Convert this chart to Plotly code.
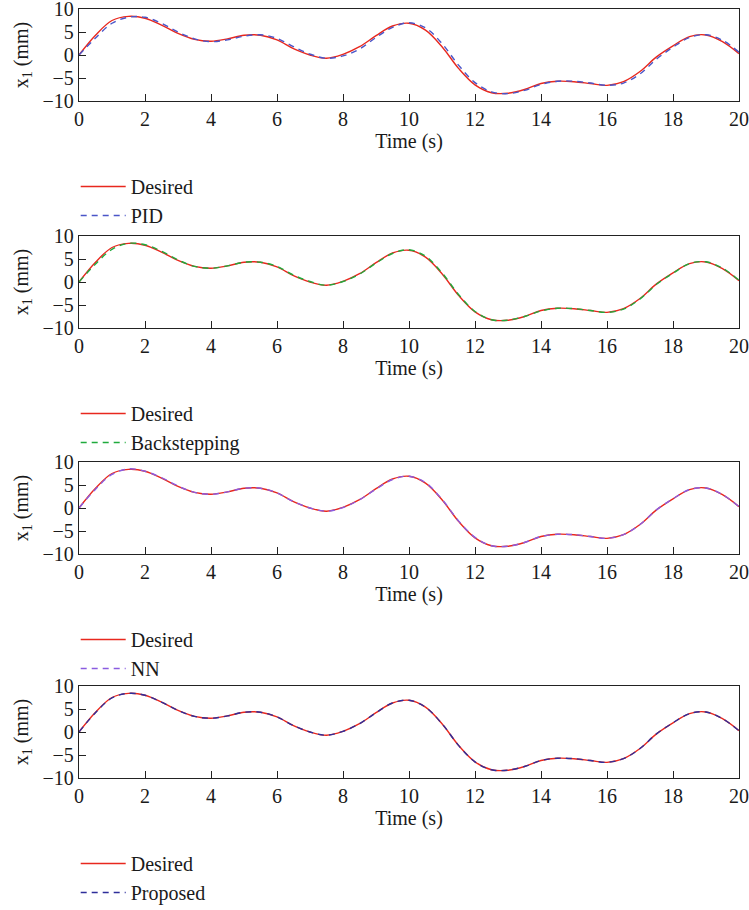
import plotly.graph_objects as go

# ---- data ----
time_s = [0, 0.5, 1, 1.5, 2, 2.5, 3, 3.5, 4, 4.5, 5, 5.5, 6, 6.5, 7, 7.5, 8, 8.5, 9, 9.5,
          10, 10.5, 11, 11.5, 12, 12.5, 13, 13.5, 14, 14.5, 15, 15.5, 16, 16.5, 17, 17.5,
          18, 18.5, 19, 19.5, 20]

desired = [0, 4.3, 7.5, 8.4, 8.0, 6.5, 4.7, 3.4, 3.0, 3.5, 4.3, 4.3, 3.3, 1.4, 0.0, -0.7,
           0.15, 1.8, 4.2, 6.3, 6.9, 5.4, 1.8, -2.9, -6.5, -8.2, -8.3, -7.5, -6.2, -5.7,
           -5.8, -6.2, -6.6, -5.8, -3.6, -0.4, 2.0, 4.0, 4.35, 2.9, 0.3]

pid = [0, 3.7, 6.9, 8.2, 8.2, 6.9, 5.0, 3.5, 2.9, 3.3, 4.1, 4.4, 3.6, 1.8, 0.2, -0.7,
       -0.2, 1.3, 3.8, 6.0, 7.0, 5.9, 2.5, -2.2, -6.0, -8.0, -8.4, -7.7, -6.4, -5.7,
       -5.7, -6.1, -6.6, -6.1, -4.1, -0.9, 1.7, 3.8, 4.4, 3.2, 0.6]

backstepping = [0, 3.9, 7.1, 8.4, 8.1, 6.7, 4.8, 3.4, 3.0, 3.5, 4.3, 4.3, 3.4, 1.5, 0.1, -0.7,
                0.1, 1.7, 4.1, 6.2, 7.0, 5.6, 2.0, -2.7, -6.4, -8.2, -8.3, -7.5, -6.3, -5.7,
                -5.8, -6.2, -6.6, -5.9, -3.7, -0.5, 1.9, 4.0, 4.4, 3.0, 0.4]

nn = [0, 4.1, 7.3, 8.5, 8.0, 6.6, 4.8, 3.4, 3.0, 3.5, 4.3, 4.3, 3.3, 1.4, 0.0, -0.7,
      0.1, 1.8, 4.1, 6.2, 6.9, 5.5, 1.9, -2.8, -6.4, -8.2, -8.3, -7.5, -6.2, -5.7,
      -5.8, -6.2, -6.6, -5.8, -3.6, -0.4, 2.0, 4.0, 4.35, 2.9, 0.3]

proposed = [0, 4.2, 7.4, 8.4, 8.0, 6.5, 4.7, 3.4, 3.0, 3.5, 4.3, 4.3, 3.3, 1.4, 0.0, -0.7,
            0.15, 1.8, 4.2, 6.3, 6.9, 5.4, 1.8, -2.9, -6.5, -8.2, -8.3, -7.5, -6.2, -5.7,
            -5.8, -6.2, -6.6, -5.8, -3.6, -0.4, 2.0, 4.0, 4.35, 2.9, 0.3]

controllers = ["PID", "Backstepping", "NN", "Proposed"]
tracked = [pid, backstepping, nn, proposed]
ctrl_colors = ["#4a55c8", "#1faa3c", "#8a5ce0", "#2e2e9a"]

x_ticks = list(range(0, 21, 2))
y_ticks = [-10, -5, 0, 5, 10]

# ---- layout geometry (pixels) ----
W, H = 749, 910
plot_tops = [9, 236, 462, 686]
plot_h = 92
FONT = "Liberation Serif, Times New Roman, serif"
FS = 20

fig = go.Figure()
for i in range(4):
    n = "" if i == 0 else str(i + 1)
    leg = "legend" + n
    fig.add_trace(go.Scatter(x=time_s, y=desired, mode="lines", name="Desired",
                             line=dict(color="#e8281e", width=1.4, shape="spline", smoothing=1.0),
                             xaxis="x" + n, yaxis="y" + n, legend=leg))
    fig.add_trace(go.Scatter(x=time_s, y=tracked[i], mode="lines", name=controllers[i],
                             line=dict(color=ctrl_colors[i], width=1.4, dash="6px,5px",
                                       shape="spline", smoothing=1.0),
                             xaxis="x" + n, yaxis="y" + n, legend=leg))

layout = dict(
    width=W, height=H,
    margin=dict(l=79, r=10, t=0, b=0, autoexpand=False),
    plot_bgcolor="white", paper_bgcolor="white",
    font=dict(family=FONT, size=FS, color="#1a1a1a"),
)

axis_common = dict(showline=True, linecolor="#222222", linewidth=1.3, mirror=True,
                   ticks="inside", ticklen=7, tickwidth=1.2, tickcolor="#222222",
                   showgrid=False, zeroline=False, automargin=False,
                   ticklabeloverflow="allow",
                   tickfont=dict(family=FONT, size=FS, color="#1a1a1a"))

for i in range(4):
    n = "" if i == 0 else str(i + 1)
    top = plot_tops[i]
    bot = top + plot_h
    dom = [1 - bot / H, 1 - top / H]
    layout["xaxis" + n] = dict(axis_common, range=[0, 20], tickvals=x_ticks,
                               anchor="y" + n, domain=[0, 1],
                               title=dict(text="Time (s)", standoff=4,
                                          font=dict(family=FONT, size=FS)))
    layout["yaxis" + n] = dict(axis_common, range=[-10, 10], tickvals=y_ticks,
                               anchor="x" + n, domain=dom,
                               title=dict(text="x<sub>1</sub> (mm)", standoff=8,
                                          font=dict(family=FONT, size=FS)))
    leg_top = bot + 66
    layout["legend" + n] = dict(x=-0.005, y=1 - leg_top / H, xanchor="left", yanchor="top",
                                bgcolor="rgba(0,0,0,0)", borderwidth=0,
                                font=dict(family=FONT, size=FS, color="#1a1a1a"),
                                tracegroupgap=0, itemwidth=45)

fig.update_layout(**layout)
fig.write_html("out.html")
